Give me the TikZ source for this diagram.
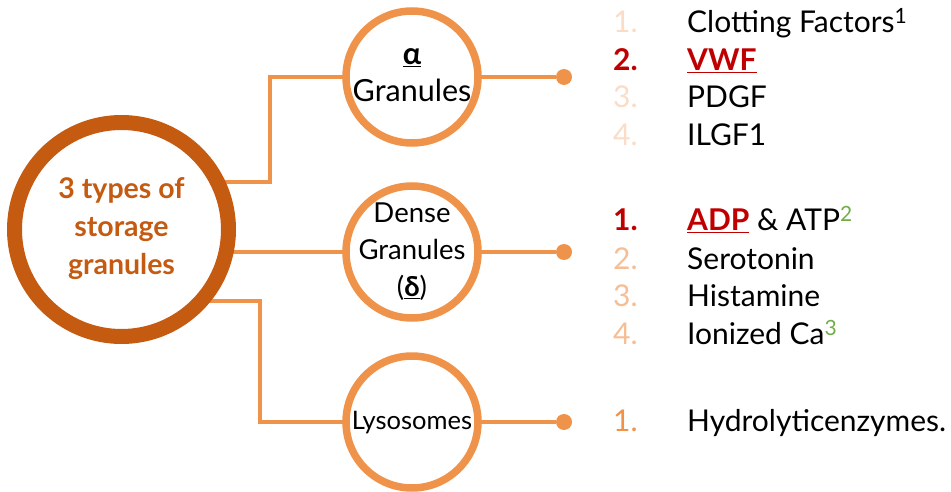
\documentclass[tikz,border=0pt]{standalone}
\usepackage{fontspec}
\setmainfont{Lato}
\usetikzlibrary{backgrounds}
\definecolor{dkor}{HTML}{C55A11}
\definecolor{ln}{HTML}{F0934A}
\definecolor{pale}{HTML}{FBDCC6}
\definecolor{mid}{HTML}{F6BE94}
\definecolor{redc}{HTML}{C00000}
\definecolor{grn}{HTML}{70AD47}
\tikzset{
  x=1pt,y=1pt,
  bigc/.style={circle,draw=dkor,line width=15pt,fill=white,minimum size=214pt,inner sep=0pt},
  smallc/.style={circle,draw=ln,line width=7.5pt,fill=white,minimum size=132pt,inner sep=0pt},
  conn/.style={draw=ln,line width=4pt},
  dotc/.style={circle,fill=ln,minimum size=16pt,inner sep=0pt},
  num/.style={anchor=base west,inner sep=0pt,font=\fontsize{30}{34}\selectfont},
  item/.style={anchor=base west,inner sep=0pt,font=\fontsize{30}{34}\selectfont},
}
\begin{document}
\begin{tikzpicture}
\useasboundingbox (0,0) rectangle (951,491);
\node[bigc] (big) at (121.5,261.5) {};
\node[align=center,text=dkor,font=\bfseries\fontsize{28.5}{38}\selectfont] (bigt) at (121.5,262) {3 types of\\storage\\granules};
\node[smallc] (alpha) at (412,414) {};
\node[smallc] (dense) at (412,239) {};
\node[smallc] (lyso) at (412,69) {};
\node[align=center,font=\fontsize{30.5}{37}\selectfont] (alphat) at (412,416) {\underline{\textbf{α}}\\Granules};
\node[align=center,font=\fontsize{27.5}{37}\selectfont] (denset) at (412,239) {Dense\\Granules\\(\underline{\textbf{δ}})};
\node[font=\fontsize{25.5}{30}\selectfont] (lysot) at (412,68) {Lysosomes};
\node[dotc] (d1) at (564,414) {};
\node[dotc] (d2) at (564,239) {};
\node[dotc] (d3) at (564,69) {};
\begin{scope}[on background layer]
\draw[conn] (big.center) ++(0,47.5) coordinate (s1) -- (270,309) coordinate (k1) |- (alpha.center);
\draw[conn] (big.center |- dense.center) -- (dense.center);
\draw[conn] (big.center) ++(0,-71.5) coordinate (s3) -- (260,190) coordinate (k3) |- (lyso.center);
\draw[conn] (alpha.center) -- (d1);
\draw[conn] (dense.center) -- (d2);
\draw[conn] (lyso.center) -- (d3);
\end{scope}
% alpha list
\node[num,text=pale] (n11) at (613,458) {1.};
\node[item] (i11) at (687,458) {Clotting Factors\textsuperscript{1}};
\node[num,text=redc,font=\bfseries\fontsize{30}{34}\selectfont] (n12) at (613,420.5) {2.};
\node[item,text=redc,font=\bfseries\fontsize{30}{34}\selectfont] (i12) at (687,420.5) {\underline{VWF}};
\node[num,text=pale] (n13) at (613,383) {3.};
\node[item] (i13) at (687,383) {PDGF};
\node[num,text=pale] (n14) at (613,345.5) {4.};
\node[item] (i14) at (687,345.5) {ILGF1};
% dense list
\node[num,text=redc,font=\bfseries\fontsize{30}{34}\selectfont] (n21) at (613,260.3) {1.};
\node[item] (i21) at (687,260.3) {\textcolor{redc}{\textbf{\underline{ADP}}} \& ATP\textsuperscript{\textcolor{grn}{2}}};
\node[num,text=mid] (n22) at (613,221.7) {2.};
\node[item] (i22) at (687,221.7) {Serotonin};
\node[num,text=mid] (n23) at (613,184.3) {3.};
\node[item] (i23) at (687,184.3) {Histamine};
\node[num,text=mid] (n24) at (613,146.7) {4.};
\node[item] (i24) at (687,146.7) {Ionized Ca\textsuperscript{\textcolor{grn}{3}}};
% lyso list
\node[num,text=ln] (n31) at (613,60) {1.};
\node[item] (i31) at (687,60) {Hydrolyticenzymes.};
\end{tikzpicture}
\end{document}
